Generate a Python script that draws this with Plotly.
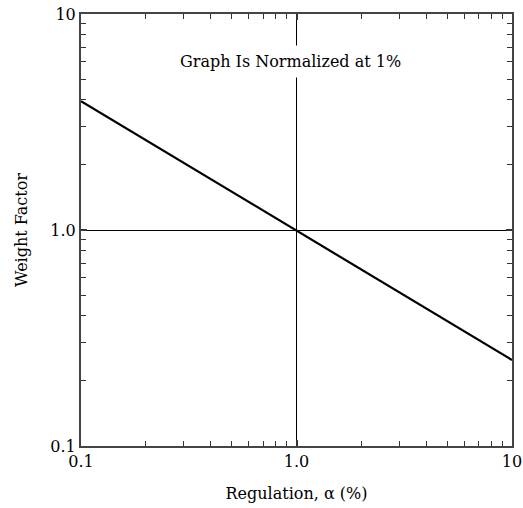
import plotly.graph_objects as go

regulation = [0.1, 10]
weight_factor = [3.95, 0.25]

x_tickvals = [0.1, 1, 10]
x_ticktext = ["0.1", "1.0", "10"]
y_tickvals = [0.1, 1, 10]
y_ticktext = ["0.1", "1.0", "10"]
minor_vals = [m * d for d in (0.1, 1) for m in range(2, 10)]

font = "DejaVu Serif"
fs = 16

fig = go.Figure()
fig.add_trace(go.Scatter(x=regulation, y=weight_factor, mode="lines",
                         line=dict(color="black", width=2.2), showlegend=False))

axis_common = dict(type="log", range=[-1, 1], ticks="inside", ticklen=6, tickwidth=1.5,
                   tickcolor="#333", showline=True, linecolor="#444", linewidth=2,
                   mirror="allticks", showgrid=True, gridcolor="black", gridwidth=1,
                   zeroline=False, automargin=False,
                   tickfont=dict(family=font, size=fs, color="black"),
                   minor=dict(ticks="inside", ticklen=5, tickwidth=1, tickcolor="#333",
                              tickvals=minor_vals, showgrid=False))

fig.update_xaxes(**axis_common, tickvals=x_tickvals, ticktext=x_ticktext,
                 title=dict(text="Regulation, α (%)", font=dict(family=font, size=fs, color="black"), standoff=18))
fig.update_yaxes(**axis_common, tickvals=y_tickvals, ticktext=y_ticktext,
                 title=dict(text="Weight Factor", font=dict(family=font, size=fs, color="black"), standoff=19))

fig.add_annotation(x=0.485, y=0.889, xref="paper", yref="paper", text="Graph Is Normalized at 1%",
                   xanchor="center", yanchor="middle", borderpad=6,
                   showarrow=False, bgcolor="white", font=dict(family=font, size=fs, color="black"))

fig.update_layout(width=523, height=508, margin=dict(l=81, r=11, t=14, b=62),
                  plot_bgcolor="white", paper_bgcolor="white")
fig.write_html("out.html", config={"displayModeBar": False},
               post_script="document.body.style.margin='0';")
